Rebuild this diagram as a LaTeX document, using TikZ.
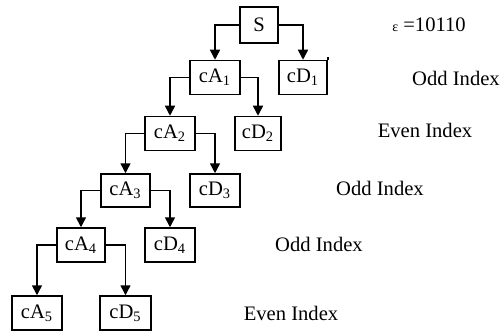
\documentclass[tikz,border=0pt]{standalone}
\usepackage{fontspec}
\setmainfont{Liberation Serif}
\usetikzlibrary{arrows.meta}
\begin{document}
\begin{tikzpicture}[x=0.5pt,y=-0.5pt,
  box/.style={draw,line width=0.75pt,inner sep=0pt,minimum width=25pt,minimum height=17pt,font=\fontsize{10.3}{12}\selectfont},
  lbl/.style={font=\fontsize{10.3}{12}\selectfont,inner sep=0pt},
  arr/.style={line width=0.75pt,-{Triangle[length=5pt,width=5pt]}}]
\useasboundingbox (0,0) rectangle (501,331);
\node[box,minimum width=19pt,minimum height=18pt] (S) at (259,25) {S};
\node[box] (cA1) at (215,77.5) {cA\textsubscript{1}};
\node[box,minimum width=24pt] (cD1) at (303,77.5) {cD\textsubscript{1}};
\node[box] (cA2) at (170,133.5) {cA\textsubscript{2}};
\node[box,minimum width=23pt] (cD2) at (258,133.5) {cD\textsubscript{2}};
\node[box,minimum width=24.5pt,minimum height=16.5pt] (cA3) at (125.5,190.5) {cA\textsubscript{3}};
\node[box,minimum height=16.5pt] (cD3) at (215,190.5) {cD\textsubscript{3}};
\node[box,minimum width=24pt] (cA4) at (81,245) {cA\textsubscript{4}};
\node[box] (cD4) at (170,245) {cD\textsubscript{4}};
\node[box] (cA5) at (37,313) {cA\textsubscript{5}};
\node[box,minimum width=25.5pt] (cD5) at (125.5,313) {cD\textsubscript{5}};
\draw[arr] (S.west) -| (cA1.north);
\draw[arr] (S.east) -| (cD1.north);
\draw[arr] (cA1.west) -| (cA2.north);
\draw[arr] (cA1.east) -| (cD2.north);
\draw[arr] (cA2.west) -| (cA3.north);
\draw[arr] (cA2.east) -| (cD3.north);
\draw[arr] (cA3.west) -| (cA4.north);
\draw[arr] (cA3.east) -| (cD4.north);
\draw[arr] (cA4.west) -| (cA5.north);
\draw[arr] (cA4.east) -| (cD5.north);
\draw[line width=0.75pt] (cD1.north east) -- ++(0,-3);
\node[lbl] (eps) at (429,25) {{\fontsize{7}{8}\selectfont ε} =10110};
\node[lbl] (o1) at (456,78) {Odd Index};
\node[lbl] (e2) at (425,130) {Even Index};
\node[lbl] (o3) at (380,188) {Odd Index};
\node[lbl] (o4) at (319,244) {Odd Index};
\node[lbl] (e5) at (291,313) {Even Index};
\end{tikzpicture}
\end{document}
